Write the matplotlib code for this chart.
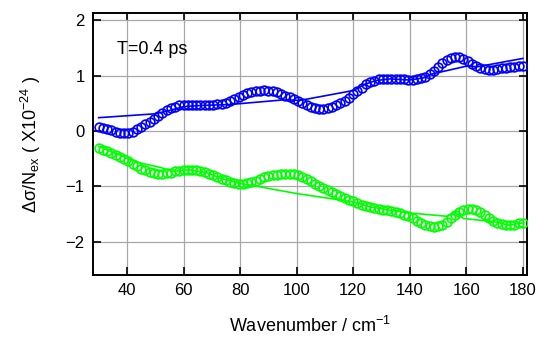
import numpy as np
import matplotlib
matplotlib.use("Agg")
import matplotlib.pyplot as plt

plt.rcParams['font.family'] = ['Liberation Sans', 'DejaVu Sans']
plt.rcParams['mathtext.default'] = 'regular'

# wavenumber grid of the measured points (cm^-1), 1.5 cm^-1 step
wn = np.arange(30, 180.01, 1.5)

blue_pts = [0.08, 0.06, 0.03, 0.01, -0.02, -0.03, -0.04, -0.03, -0.01, 0.03,
            0.07, 0.12, 0.17, 0.22, 0.27, 0.32, 0.37, 0.41, 0.44, 0.46,
            0.47, 0.47, 0.47, 0.46, 0.46, 0.46, 0.46, 0.47, 0.48, 0.49,
            0.51, 0.54, 0.58, 0.62, 0.65, 0.68, 0.71, 0.72, 0.73, 0.74,
            0.73, 0.72, 0.70, 0.67, 0.64, 0.61, 0.58, 0.54, 0.50, 0.46,
            0.43, 0.41, 0.40, 0.40, 0.41, 0.43, 0.46, 0.50, 0.55, 0.60,
            0.66, 0.72, 0.78, 0.84, 0.88, 0.91, 0.93, 0.94, 0.94, 0.94,
            0.94, 0.93, 0.93, 0.92, 0.92, 0.93, 0.95, 0.98, 1.03, 1.09,
            1.16, 1.22, 1.28, 1.32, 1.34, 1.33, 1.30, 1.26, 1.21, 1.17,
            1.13, 1.11, 1.10, 1.10, 1.11, 1.13, 1.14, 1.15, 1.16, 1.17,
            1.18]

green_pts = [-0.31, -0.34, -0.37, -0.40, -0.43, -0.47, -0.51, -0.55, -0.60, -0.64,
             -0.68, -0.71, -0.74, -0.76, -0.77, -0.77, -0.76, -0.75, -0.73, -0.72,
             -0.71, -0.70, -0.70, -0.71, -0.72, -0.74, -0.77, -0.80, -0.83, -0.86,
             -0.89, -0.92, -0.94, -0.95, -0.95, -0.94, -0.92, -0.90, -0.87, -0.84,
             -0.82, -0.80, -0.79, -0.78, -0.77, -0.77, -0.78, -0.80, -0.83, -0.87,
             -0.91, -0.95, -0.99, -1.03, -1.06, -1.10, -1.14, -1.18, -1.21, -1.24,
             -1.27, -1.30, -1.33, -1.35, -1.37, -1.39, -1.41, -1.42, -1.43, -1.44,
             -1.46, -1.48, -1.51, -1.54, -1.58, -1.62, -1.66, -1.69, -1.72, -1.73,
             -1.72, -1.69, -1.64, -1.58, -1.51, -1.46, -1.42, -1.40, -1.41, -1.43,
             -1.47, -1.52, -1.57, -1.62, -1.66, -1.68, -1.70, -1.70, -1.69, -1.67,
             -1.66]

# fitted curves
blue_fit_x = [30, 50, 55, 60, 66, 72, 77, 95, 98, 101, 120, 124, 128, 133, 140, 145, 148, 160, 164, 180]
blue_fit_y = [0.24, 0.31, 0.37, 0.44, 0.46, 0.47, 0.48, 0.56, 0.56, 0.55, 0.73, 0.84, 0.91, 0.94, 0.92, 0.96, 1.03, 1.17, 1.16, 1.31]

green_fit_x = [30, 44, 52, 56, 62, 68, 74, 80, 84, 100, 116, 120, 126, 133, 140, 153, 156, 159, 170, 175, 180]
green_fit_y = [-0.28, -0.57, -0.66, -0.73, -0.70, -0.75, -0.87, -0.95, -0.98, -1.13, -1.25, -1.28, -1.37, -1.43, -1.48, -1.54, -1.47, -1.58, -1.64, -1.70, -1.66]

fig = plt.figure(figsize=(5.42, 3.45), dpi=100)
ax = fig.add_axes([0.1716, 0.203, 0.8004, 0.7593])

ax.grid(True, color='#a8a8a8', linewidth=0.9, zorder=0)
ax.plot(wn, blue_pts, 'o', mfc='none', mec='blue', ms=6.3, mew=1.2, zorder=3)
ax.plot(blue_fit_x, blue_fit_y, '-', color='blue', lw=1.2, zorder=4)
ax.plot(wn, green_pts, 'o', mfc='none', mec='#00ff00', ms=6.3, mew=1.2, zorder=3)
ax.plot(green_fit_x, green_fit_y, '-', color='#00ff00', lw=1.2, zorder=4)

ax.set_xlim(28, 181.4)
ax.set_ylim(-2.6, 2.13)
ax.set_xticks(range(40, 181, 20))
ax.set_yticks([-2, -1, 0, 1, 2])
ax.set_yticklabels(['\u22122', '\u22121', '0', '1', '2'])
ax.tick_params(direction='in', length=6, width=1.2, top=True, right=True,
               labelsize=12, colors='black', pad=6)
for s in ax.spines.values():
    s.set_linewidth(1.4)

ax.text(0.055, 0.86, 'T=0.4 ps', transform=ax.transAxes, fontsize=13, va='center')
ax.set_xlabel('Wavenumber / cm$^{-1}$', fontsize=13, labelpad=13)
ax.set_ylabel('\u0394\u03c3/N$_{ex}$ ( X10$^{-24}$ )', fontsize=13, labelpad=16)

fig.savefig('out.png', dpi=100)
